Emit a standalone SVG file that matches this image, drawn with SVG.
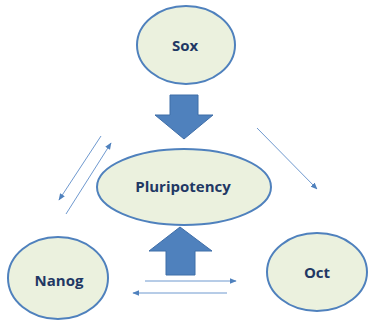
<svg xmlns="http://www.w3.org/2000/svg" width="369" height="320" viewBox="0 0 369 320">
<style>
.node{fill:#ebf1de;stroke:#4f81bd;stroke-width:2}
.lbl{font-family:"Open Sans","Liberation Sans",sans-serif;font-weight:700;font-size:15px;fill:#1f3864;text-anchor:middle}
.big{fill:#4f81bd;stroke:#3f6ea8;stroke-width:1}
.thin{stroke:#6f99cf;stroke-width:1;fill:none;marker-end:url(#ah)}
</style>
<defs>
<marker id="ah" viewBox="0 0 10 10" refX="9" refY="5" markerWidth="7" markerHeight="7" markerUnits="userSpaceOnUse" orient="auto">
<path d="M0,1 L10,5 L0,9 Z" fill="#4f81bd"/>
</marker>
</defs>
<rect width="369" height="320" fill="#ffffff"/>
<g id="connectors">
<polygon class="big" points="170,95 198,95 198,115 213,115 184,139 155,115 170,115"/>
<polygon class="big" points="180,227 212,251 195,251 195,275 166,275 166,251 149,251"/>
<line class="thin" x1="101" y1="136" x2="59" y2="200"/>
<line class="thin" x1="66" y1="214" x2="111" y2="143"/>
<line class="thin" x1="257" y1="128" x2="317" y2="189"/>
<line class="thin" x1="145" y1="281" x2="236" y2="281"/>
<line class="thin" x1="227" y1="293" x2="133" y2="293"/>
</g>
<g id="sox">
<ellipse class="node" cx="186" cy="45" rx="49" ry="39"/>
<text class="lbl" x="185" y="51">Sox</text>
</g>
<g id="pluripotency">
<ellipse class="node" cx="184" cy="187" rx="87" ry="38"/>
<text class="lbl" x="183" y="192">Pluripotency</text>
</g>
<g id="nanog">
<ellipse class="node" cx="58" cy="278" rx="50" ry="41"/>
<text class="lbl" x="59" y="286">Nanog</text>
</g>
<g id="oct">
<ellipse class="node" cx="317" cy="272" rx="50" ry="39"/>
<text class="lbl" x="317" y="278">Oct</text>
</g>
</svg>
